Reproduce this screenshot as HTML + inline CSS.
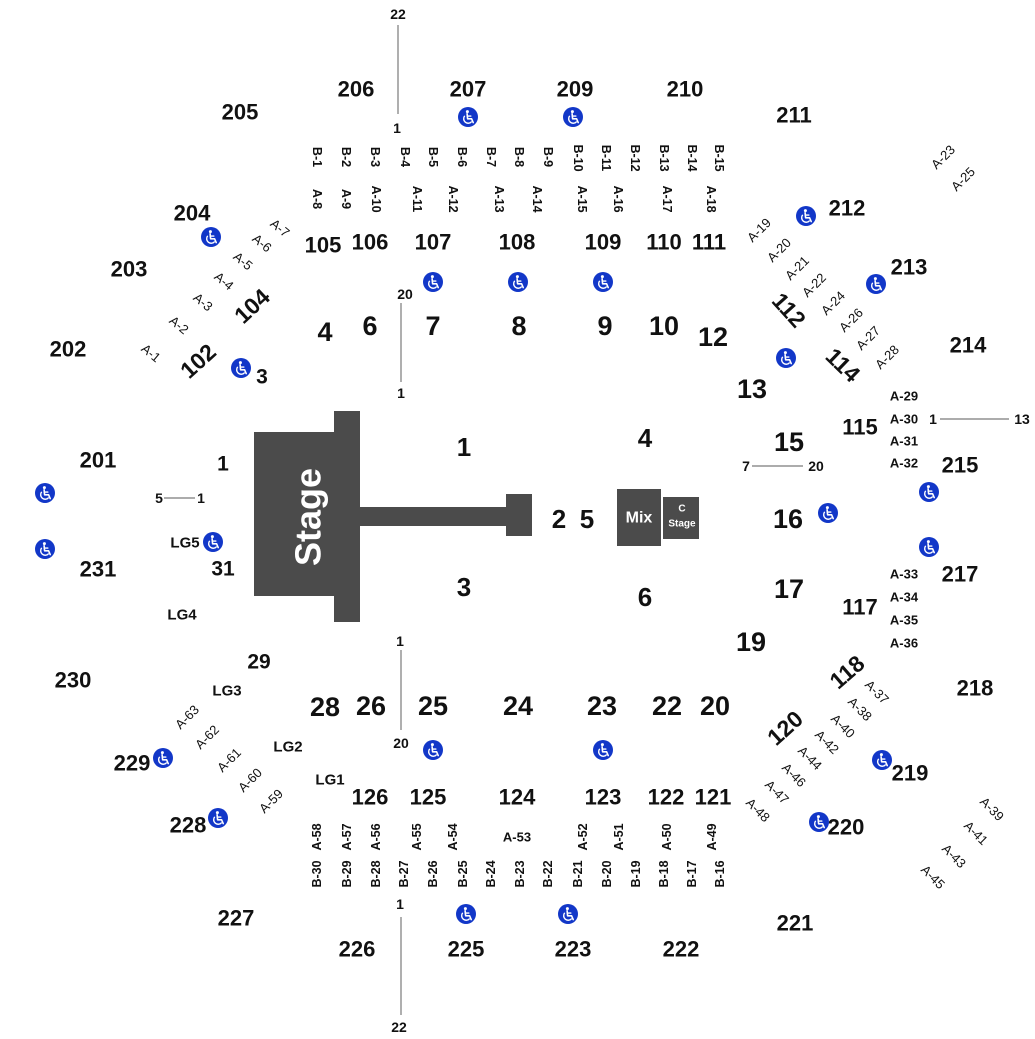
<!DOCTYPE html>
<html>
<head>
<meta charset="utf-8">
<style>
  html,body{margin:0;padding:0;background:#fff;}
  svg{display:block;}
  text{font-family:"Liberation Sans",Arial,sans-serif;fill:#111;text-anchor:middle;dominant-baseline:central;}
  .f27{font-size:27px;font-weight:bold;}
  .f26{font-size:26px;font-weight:bold;}
  .f21{font-size:21px;font-weight:bold;}
  .s{font-size:22px;font-weight:bold;}
  .s23{font-size:23px;font-weight:bold;}
  .sm{font-size:14px;font-weight:bold;}
  .lg{font-size:15px;font-weight:bold;}
  .ah{font-size:13px;font-weight:bold;}
  .v{font-size:12.5px;font-weight:bold;}
  .d{font-size:13px;font-weight:normal;}
  .w{fill:#fff;}
  line{stroke:#7a7a7a;stroke-width:1.2;}
</style>
</head>
<body>
<svg width="1035" height="1039" viewBox="0 0 1035 1039" xmlns="http://www.w3.org/2000/svg">
<defs>
  <g id="wc">
    <circle r="10" fill="#1237c8"/>
    <circle cx="-0.6" cy="-5.4" r="1.5" fill="#fff"/>
    <path d="M-0.9 -3.2 L-0.4 1.8 L3.6 1.8 L5.2 5.6" fill="none" stroke="#fff" stroke-width="1.6" stroke-linejoin="round" stroke-linecap="round"/>
    <path d="M-0.6 -0.9 H2.8" stroke="#fff" stroke-width="1.4" stroke-linecap="round"/>
    <path d="M-3.3 -1.2 A4.4 4.4 0 1 0 3.7 4.6" fill="none" stroke="#fff" stroke-width="1.4"/>
  </g>
</defs>

<!-- Stage -->
<g fill="#4b4b4b">
  <rect x="254" y="432" width="106" height="164"/>
  <rect x="334" y="411" width="26" height="211"/>
  <rect x="360" y="507" width="148" height="19"/>
  <rect x="506" y="494" width="26" height="42"/>
  <rect x="617" y="489" width="44" height="57"/>
  <rect x="663" y="497" width="36" height="42"/>
</g>
<text class="w" transform="translate(308,517) rotate(-90)" style="font-size:36px;font-weight:bold;">Stage</text>
<text class="w" x="639" y="518" style="font-size:16px;font-weight:bold;">Mix</text>
<text class="w" x="682" y="509" style="font-size:10px;font-weight:bold;">C</text>
<text class="w" x="682" y="524" style="font-size:10px;font-weight:bold;">Stage</text>

<!-- lines -->
<line x1="398" y1="25" x2="398" y2="114"/>
<line x1="401" y1="303" x2="401" y2="382"/>
<line x1="401" y1="650" x2="401" y2="730"/>
<line x1="401" y1="917" x2="401" y2="1015"/>
<line x1="164" y1="498" x2="195" y2="498"/>
<line x1="940" y1="419" x2="1009" y2="419"/>
<line x1="752" y1="466" x2="803" y2="466"/>

<!-- small row labels -->
<text class="sm" x="398" y="14">22</text>
<text class="sm" x="397" y="128">1</text>
<text class="sm" x="405" y="294">20</text>
<text class="sm" x="401" y="393">1</text>
<text class="sm" x="400" y="641">1</text>
<text class="sm" x="401" y="743">20</text>
<text class="sm" x="400" y="904">1</text>
<text class="sm" x="399" y="1027">22</text>
<text class="sm" x="159" y="498">5</text>
<text class="sm" x="201" y="498">1</text>
<text class="sm" x="933" y="419">1</text>
<text class="sm" x="1022" y="419">13</text>
<text class="sm" x="746" y="466">7</text>
<text class="sm" x="816" y="466">20</text>

<!-- floor numbers -->
<text class="f27" x="325" y="332">4</text>
<text class="f27" x="370" y="326">6</text>
<text class="f27" x="433" y="326">7</text>
<text class="f27" x="519" y="326">8</text>
<text class="f27" x="605" y="326">9</text>
<text class="f27" x="664" y="326">10</text>
<text class="f27" x="713" y="337">12</text>
<text class="f27" x="752" y="389">13</text>
<text class="f27" x="789" y="442">15</text>
<text class="f27" x="788" y="519">16</text>
<text class="f27" x="789" y="589">17</text>
<text class="f27" x="751" y="642">19</text>
<text class="f27" x="325" y="707">28</text>
<text class="f27" x="371" y="706">26</text>
<text class="f27" x="433" y="706">25</text>
<text class="f27" x="518" y="706">24</text>
<text class="f27" x="602" y="706">23</text>
<text class="f27" x="667" y="706">22</text>
<text class="f27" x="715" y="706">20</text>

<text class="f26" x="464" y="447">1</text>
<text class="f26" x="464" y="587">3</text>
<text class="f26" x="645" y="438">4</text>
<text class="f26" x="645" y="597">6</text>
<text class="f26" x="559" y="519">2</text>
<text class="f26" x="587" y="519">5</text>

<text class="f21" x="223" y="464">1</text>
<text class="f21" x="223" y="569">31</text>
<text class="f21" x="259" y="662">29</text>
<text class="f21" x="262" y="377">3</text>

<!-- 200 level -->
<text class="s" x="240" y="112">205</text>
<text class="s" x="356" y="89">206</text>
<text class="s" x="468" y="89">207</text>
<text class="s" x="575" y="89">209</text>
<text class="s" x="685" y="89">210</text>
<text class="s" x="794" y="115">211</text>
<text class="s" x="847" y="208">212</text>
<text class="s" x="909" y="267">213</text>
<text class="s" x="968" y="345">214</text>
<text class="s" x="960" y="465">215</text>
<text class="s" x="960" y="574">217</text>
<text class="s" x="975" y="688">218</text>
<text class="s" x="910" y="773">219</text>
<text class="s" x="846" y="827">220</text>
<text class="s" x="795" y="923">221</text>
<text class="s" x="681" y="949">222</text>
<text class="s" x="573" y="949">223</text>
<text class="s" x="466" y="949">225</text>
<text class="s" x="357" y="949">226</text>
<text class="s" x="236" y="918">227</text>
<text class="s" x="188" y="825">228</text>
<text class="s" x="132" y="763">229</text>
<text class="s" x="73" y="680">230</text>
<text class="s" x="98" y="569">231</text>
<text class="s" x="98" y="460">201</text>
<text class="s" x="68" y="349">202</text>
<text class="s" x="129" y="269">203</text>
<text class="s" x="192" y="213">204</text>

<!-- 100 level -->
<text class="s" x="323" y="245">105</text>
<text class="s" x="370" y="242">106</text>
<text class="s" x="433" y="242">107</text>
<text class="s" x="517" y="242">108</text>
<text class="s" x="603" y="242">109</text>
<text class="s" x="664" y="242">110</text>
<text class="s" x="709" y="242">111</text>
<text class="s" x="860" y="427">115</text>
<text class="s" x="860" y="607">117</text>
<text class="s" x="713" y="797">121</text>
<text class="s" x="666" y="797">122</text>
<text class="s" x="603" y="797">123</text>
<text class="s" x="517" y="797">124</text>
<text class="s" x="428" y="797">125</text>
<text class="s" x="370" y="797">126</text>
<text class="s23" transform="translate(252,306) rotate(-43)">104</text>
<text class="s23" transform="translate(198,361) rotate(-42)">102</text>
<text class="s23" transform="translate(789,310) rotate(48)">112</text>
<text class="s23" transform="translate(843,365) rotate(44)">114</text>
<text class="s23" transform="translate(847,672) rotate(-41)">118</text>
<text class="s23" transform="translate(785,728) rotate(-42)">120</text>

<!-- LG -->
<text class="lg" x="185" y="543">LG5</text>
<text class="lg" x="182" y="615">LG4</text>
<text class="lg" x="227" y="691">LG3</text>
<text class="lg" x="288" y="747">LG2</text>
<text class="lg" x="330" y="780">LG1</text>

<!-- horizontal A labels -->
<text class="ah" x="904" y="396">A-29</text>
<text class="ah" x="904" y="419">A-30</text>
<text class="ah" x="904" y="441">A-31</text>
<text class="ah" x="904" y="463">A-32</text>
<text class="ah" x="904" y="574">A-33</text>
<text class="ah" x="904" y="597">A-34</text>
<text class="ah" x="904" y="620">A-35</text>
<text class="ah" x="904" y="643">A-36</text>
<text class="ah" x="517" y="837">A-53</text>

<!-- top vertical B row -->
<g class="v">
<text class="v" transform="translate(317,157) rotate(90)">B-1</text>
<text class="v" transform="translate(346,157) rotate(90)">B-2</text>
<text class="v" transform="translate(375,157) rotate(90)">B-3</text>
<text class="v" transform="translate(405,157) rotate(90)">B-4</text>
<text class="v" transform="translate(433,157) rotate(90)">B-5</text>
<text class="v" transform="translate(462,157) rotate(90)">B-6</text>
<text class="v" transform="translate(491,157) rotate(90)">B-7</text>
<text class="v" transform="translate(519,157) rotate(90)">B-8</text>
<text class="v" transform="translate(548,157) rotate(90)">B-9</text>
<text class="v" transform="translate(578,158) rotate(90)">B-10</text>
<text class="v" transform="translate(606,158) rotate(90)">B-11</text>
<text class="v" transform="translate(635,158) rotate(90)">B-12</text>
<text class="v" transform="translate(664,158) rotate(90)">B-13</text>
<text class="v" transform="translate(692,158) rotate(90)">B-14</text>
<text class="v" transform="translate(719,158) rotate(90)">B-15</text>
<!-- top vertical A row -->
<text class="v" transform="translate(317,199) rotate(90)">A-8</text>
<text class="v" transform="translate(346,199) rotate(90)">A-9</text>
<text class="v" transform="translate(376,199) rotate(90)">A-10</text>
<text class="v" transform="translate(417,199) rotate(90)">A-11</text>
<text class="v" transform="translate(453,199) rotate(90)">A-12</text>
<text class="v" transform="translate(499,199) rotate(90)">A-13</text>
<text class="v" transform="translate(537,199) rotate(90)">A-14</text>
<text class="v" transform="translate(582,199) rotate(90)">A-15</text>
<text class="v" transform="translate(618,199) rotate(90)">A-16</text>
<text class="v" transform="translate(667,199) rotate(90)">A-17</text>
<text class="v" transform="translate(711,199) rotate(90)">A-18</text>
<!-- bottom vertical A row -->
<text class="v" transform="translate(317,837) rotate(-90)">A-58</text>
<text class="v" transform="translate(347,837) rotate(-90)">A-57</text>
<text class="v" transform="translate(376,837) rotate(-90)">A-56</text>
<text class="v" transform="translate(417,837) rotate(-90)">A-55</text>
<text class="v" transform="translate(453,837) rotate(-90)">A-54</text>
<text class="v" transform="translate(583,837) rotate(-90)">A-52</text>
<text class="v" transform="translate(619,837) rotate(-90)">A-51</text>
<text class="v" transform="translate(667,837) rotate(-90)">A-50</text>
<text class="v" transform="translate(712,837) rotate(-90)">A-49</text>
<!-- bottom vertical B row -->
<text class="v" transform="translate(317,874) rotate(-90)">B-30</text>
<text class="v" transform="translate(347,874) rotate(-90)">B-29</text>
<text class="v" transform="translate(376,874) rotate(-90)">B-28</text>
<text class="v" transform="translate(404,874) rotate(-90)">B-27</text>
<text class="v" transform="translate(433,874) rotate(-90)">B-26</text>
<text class="v" transform="translate(463,874) rotate(-90)">B-25</text>
<text class="v" transform="translate(491,874) rotate(-90)">B-24</text>
<text class="v" transform="translate(520,874) rotate(-90)">B-23</text>
<text class="v" transform="translate(548,874) rotate(-90)">B-22</text>
<text class="v" transform="translate(578,874) rotate(-90)">B-21</text>
<text class="v" transform="translate(607,874) rotate(-90)">B-20</text>
<text class="v" transform="translate(636,874) rotate(-90)">B-19</text>
<text class="v" transform="translate(664,874) rotate(-90)">B-18</text>
<text class="v" transform="translate(692,874) rotate(-90)">B-17</text>
<text class="v" transform="translate(720,874) rotate(-90)">B-16</text>
</g>

<!-- diagonal labels: top-left -->
<text class="d" transform="translate(151,353) rotate(40)">A-1</text>
<text class="d" transform="translate(179,325) rotate(40)">A-2</text>
<text class="d" transform="translate(203,302) rotate(40)">A-3</text>
<text class="d" transform="translate(224,281) rotate(40)">A-4</text>
<text class="d" transform="translate(243,261) rotate(40)">A-5</text>
<text class="d" transform="translate(262,243) rotate(40)">A-6</text>
<text class="d" transform="translate(280,228) rotate(40)">A-7</text>
<!-- top-right -->
<text class="d" transform="translate(759,230) rotate(-45)">A-19</text>
<text class="d" transform="translate(779,250) rotate(-45)">A-20</text>
<text class="d" transform="translate(797,268) rotate(-45)">A-21</text>
<text class="d" transform="translate(814,285) rotate(-45)">A-22</text>
<text class="d" transform="translate(833,303) rotate(-45)">A-24</text>
<text class="d" transform="translate(851,320) rotate(-45)">A-26</text>
<text class="d" transform="translate(868,338) rotate(-45)">A-27</text>
<text class="d" transform="translate(887,357) rotate(-45)">A-28</text>
<text class="d" transform="translate(943,157) rotate(-45)">A-23</text>
<text class="d" transform="translate(963,179) rotate(-45)">A-25</text>
<!-- bottom-right -->
<text class="d" transform="translate(877,692) rotate(45)">A-37</text>
<text class="d" transform="translate(860,709) rotate(45)">A-38</text>
<text class="d" transform="translate(843,726) rotate(45)">A-40</text>
<text class="d" transform="translate(827,742) rotate(45)">A-42</text>
<text class="d" transform="translate(810,758) rotate(45)">A-44</text>
<text class="d" transform="translate(794,775) rotate(45)">A-46</text>
<text class="d" transform="translate(777,792) rotate(45)">A-47</text>
<text class="d" transform="translate(758,810) rotate(45)">A-48</text>
<text class="d" transform="translate(992,809) rotate(45)">A-39</text>
<text class="d" transform="translate(976,833) rotate(45)">A-41</text>
<text class="d" transform="translate(954,856) rotate(45)">A-43</text>
<text class="d" transform="translate(933,877) rotate(45)">A-45</text>
<!-- bottom-left -->
<text class="d" transform="translate(187,717) rotate(-45)">A-63</text>
<text class="d" transform="translate(207,737) rotate(-45)">A-62</text>
<text class="d" transform="translate(229,760) rotate(-45)">A-61</text>
<text class="d" transform="translate(250,780) rotate(-45)">A-60</text>
<text class="d" transform="translate(271,801) rotate(-45)">A-59</text>

<!-- wheelchair icons -->
<use href="#wc" x="468" y="117"/>
<use href="#wc" x="573" y="117"/>
<use href="#wc" x="211" y="237"/>
<use href="#wc" x="806" y="216"/>
<use href="#wc" x="876" y="284"/>
<use href="#wc" x="433" y="282"/>
<use href="#wc" x="518" y="282"/>
<use href="#wc" x="603" y="282"/>
<use href="#wc" x="241" y="368"/>
<use href="#wc" x="786" y="358"/>
<use href="#wc" x="45" y="493"/>
<use href="#wc" x="45" y="549"/>
<use href="#wc" x="213" y="542"/>
<use href="#wc" x="929" y="492"/>
<use href="#wc" x="828" y="513"/>
<use href="#wc" x="929" y="547"/>
<use href="#wc" x="882" y="760"/>
<use href="#wc" x="819" y="822"/>
<use href="#wc" x="433" y="750"/>
<use href="#wc" x="603" y="750"/>
<use href="#wc" x="163" y="758"/>
<use href="#wc" x="218" y="818"/>
<use href="#wc" x="466" y="914"/>
<use href="#wc" x="568" y="914"/>
</svg>
</body>
</html>
